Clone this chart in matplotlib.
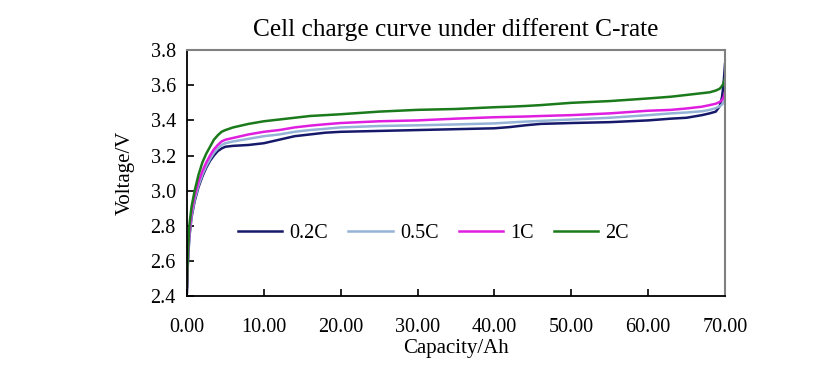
import matplotlib
matplotlib.use("Agg")
import matplotlib.pyplot as plt
from matplotlib.ticker import FormatStrFormatter

plt.rcParams['font.family'] = ['Liberation Serif', 'DejaVu Serif']

# capacity in Ah (shared x for all curves)
capacity = [0, 0.1, 0.3, 0.6, 1.0, 1.5, 2.0, 2.5, 3.0, 3.5, 4.0, 4.5, 5.0, 6, 8, 10,
            12, 14, 16, 18, 20, 25, 30, 35, 40, 42, 44, 46, 50, 55, 60, 63, 65, 67,
            68, 68.8, 69.3, 69.6, 69.8, 70]

v_02c = [2.42, 2.57, 2.73, 2.85, 2.94, 3.02, 3.08, 3.13, 3.17, 3.20, 3.225, 3.24, 3.25,
         3.255, 3.26, 3.27, 3.29, 3.31, 3.32, 3.33, 3.335, 3.34, 3.345, 3.35, 3.355,
         3.362, 3.372, 3.38, 3.385, 3.39, 3.40, 3.41, 3.415, 3.43, 3.44, 3.45, 3.48,
         3.53, 3.60, 3.72]
v_05c = [2.45, 2.58, 2.74, 2.86, 2.95, 3.03, 3.09, 3.14, 3.18, 3.215, 3.24, 3.26, 3.27,
         3.28, 3.295, 3.31, 3.32, 3.335, 3.345, 3.352, 3.36, 3.368, 3.372, 3.377, 3.383,
         3.388, 3.393, 3.397, 3.405, 3.415, 3.43, 3.44, 3.445, 3.452, 3.46, 3.47, 3.48,
         3.49, 3.50, 3.52]
v_1c = [2.45, 2.60, 2.76, 2.88, 2.97, 3.05, 3.11, 3.16, 3.20, 3.235, 3.26, 3.28, 3.29,
        3.30, 3.32, 3.335, 3.345, 3.36, 3.37, 3.378, 3.385, 3.395, 3.40, 3.41, 3.418,
        3.42, 3.422, 3.425, 3.43, 3.44, 3.455, 3.46, 3.468, 3.478, 3.487, 3.495, 3.505,
        3.515, 3.53, 3.56]
v_2c = [2.45, 2.62, 2.80, 2.91, 3.00, 3.09, 3.16, 3.21, 3.25, 3.29, 3.315, 3.335, 3.345,
        3.36, 3.38, 3.395, 3.405, 3.415, 3.425, 3.43, 3.435, 3.45, 3.46, 3.465, 3.475,
        3.478, 3.482, 3.487, 3.50, 3.51, 3.525, 3.535, 3.545, 3.555, 3.56, 3.57, 3.58,
        3.595, 3.61, 3.64]

series = [("0.2C", v_02c, "#16186a"),
          ("0.5C", v_05c, "#95b3d7"),
          ("1C", v_1c, "#e01ee0"),
          ("2C", v_2c, "#1b7a1b")]

fig = plt.figure(figsize=(8.4, 3.68), dpi=100)
ax = fig.add_axes([0.2226, 0.1957, 0.6405, 0.668])

for name, vals, col in series:
    ax.plot(capacity, vals, color=col, lw=1.8, label=name)

ax.set_xlim(0, 70)
ax.set_ylim(2.4, 3.8)
ax.set_xticks(range(0, 71, 10))
ax.set_yticks([2.4, 2.6, 2.8, 3.0, 3.2, 3.4, 3.6, 3.8])
ax.xaxis.set_major_formatter(FormatStrFormatter("%.2f"))
ax.yaxis.set_major_formatter(FormatStrFormatter("%.1f"))
ax.tick_params(direction="in", length=5, width=1.2, labelsize=14.5)
ax.tick_params(axis="x", pad=16)
ax.tick_params(axis="y", pad=8)

for s in ["left", "bottom"]:
    ax.spines[s].set_color("black")
    ax.spines[s].set_linewidth(1.3)
for s in ["top", "right"]:
    ax.spines[s].set_color("#808080")
    ax.spines[s].set_linewidth(1.5)

ax.set_title("Cell charge curve under different C-rate", fontsize=18.3, pad=10)
ax.set_xlabel("Capacity/Ah", fontsize=15, labelpad=1)
ax.set_ylabel("Voltage/V", fontsize=15, labelpad=11)

ax.legend(loc="center", bbox_to_anchor=(0.458, 0.256), ncol=4, frameon=False,
          fontsize=14.5, handlelength=2.2, handletextpad=0.35, columnspacing=1.0)

fig.savefig("out.png", dpi=100)
